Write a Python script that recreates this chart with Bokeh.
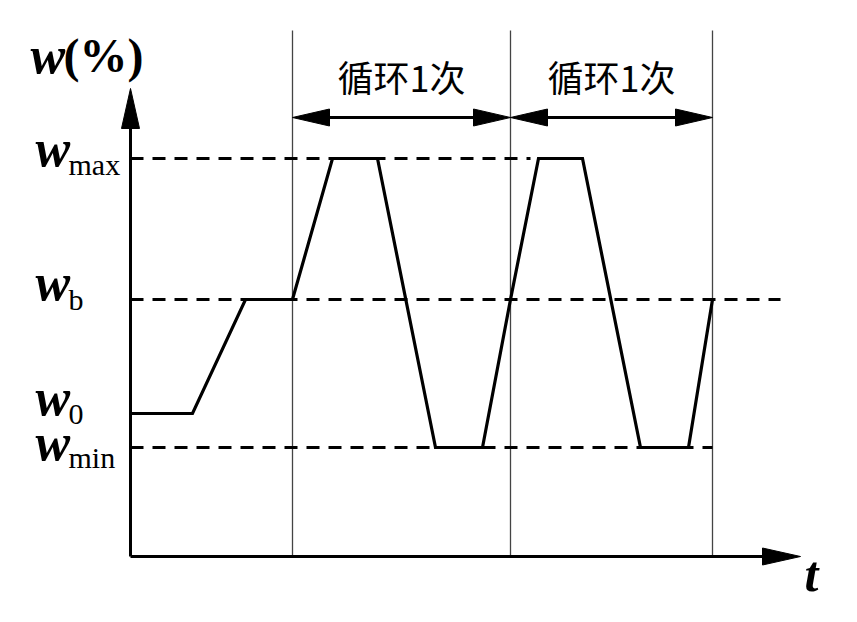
from bokeh.plotting import figure
from bokeh.models import Range1d
from bokeh.core.properties import value
from bokeh.embed import file_html
from bokeh.resources import INLINE

# ---- data (time units, w units) ----
W_MIN, W0, WB, WMAX = 10.9, 14.3, 25.7, 39.8
t_pts = [0, 6.2, 11.5, 16.2, 20.2, 24.7, 30.5, 35.2, 38.0, 40.8, 45.2, 51.0, 55.8, 58.2]
w_pts = [W0, W0, WB, WB, WMAX, WMAX, W_MIN, W_MIN, WB, WMAX, WMAX, W_MIN, W_MIN, WB]
cycle_t = [16.2, 38.0, 58.2]
cycle_labels = ["循环1次", "循环1次"]
level_vals = [WMAX, WB, W0, W_MIN]
level_main = ["w", "w", "w", "w"]
level_subs = ["max", "b", "0", "min"]
dash_ends = [40.0, 65.0, None, 58.2]
T_END = 67.0
W_END = 46.8

p = figure(width=841, height=606, output_backend="svg", toolbar_location=None,
           x_range=Range1d(-13.0, 71.1), y_range=Range1d(-5.0, 55.6),
           x_axis_type=None, y_axis_type=None, min_border=0)
p.outline_line_color = None
p.xgrid.visible = False
p.ygrid.visible = False

# thin vertical cycle boundaries
for tc in cycle_t:
    p.line([tc, tc], [0, 52.6], line_color="#444444", line_width=1.3)

# dashed level lines
for lv, te in zip(level_vals, dash_ends):
    if te is not None:
        p.line([0, te], [lv, lv], line_color="black", line_width=3, line_dash="13 9")

# curve
p.line(t_pts, w_pts, line_color="black", line_width=3.2, line_join="miter")

# axes
p.line([0, 0], [0, W_END - 3.5], line_color="black", line_width=3)
p.line([0, T_END - 3.5], [0, 0], line_color="black", line_width=3)
p.patches([[0, -0.9, 0.9], [T_END, T_END - 3.8, T_END - 3.8]],
          [[W_END, W_END - 4.0, W_END - 4.0], [0, 0.85, -0.85]], color="black")

# cycle double arrows
AY = 43.9
HL, HW = 3.7, 0.85
xs_heads, ys_heads = [], []
for a, b in zip(cycle_t[:-1], cycle_t[1:]):
    p.line([a + 1, b - 1], [AY, AY], line_color="black", line_width=3)
    xs_heads += [[a, a + HL, a + HL], [b, b - HL, b - HL]]
    ys_heads += [[AY, AY + HW, AY - HW], [AY, AY + HW, AY - HW]]
p.patches(xs_heads, ys_heads, color="black")

mids = [(a + b) / 2 for a, b in zip(cycle_t[:-1], cycle_t[1:])]
p.text(x=mids, y=[48.1, 48.1], text=cycle_labels, text_align="center",
       text_baseline="alphabetic", text_font=value("Noto Sans CJK SC"),
       text_font_size="36px", text_color="black")

# level labels
main_base = [(556 - 148) / 10, (556 - 282) / 10, (556 - 397) / 10, (556 - 442) / 10]
sub_base = [(556 - 164) / 10, (556 - 299) / 10, (556 - 414) / 10, (556 - 457) / 10]
p.text(x=[-9.5] * 4, y=main_base, text=level_main, text_baseline="alphabetic",
       text_font=value("Liberation Serif"), text_font_style="bold italic",
       text_font_size="52px", text_color="black")
p.text(x=[-6.2] * 4, y=sub_base, text=level_subs, text_baseline="alphabetic",
       text_font=value("Liberation Serif"), text_font_size="30px", text_color="black")

# axis titles
p.text(x=[-10.0], y=[50.1], text=["w"], text_baseline="alphabetic",
       text_font=value("Liberation Serif"), text_font_style="bold italic",
       text_font_size="52px", text_color="black")
p.text(x=[-6.7], y=[50.1], text=["(%)"], text_baseline="alphabetic",
       text_font=value("Liberation Serif"), text_font_style="bold",
       text_font_size="48px", text_color="black")
p.text(x=[67.4], y=[-1.7], text=["t "], text_baseline="alphabetic",
       text_font=value("Liberation Serif"), text_font_style="bold italic",
       text_font_size="50px", text_color="black")

open("out.html", "w").write(file_html(p, INLINE))
